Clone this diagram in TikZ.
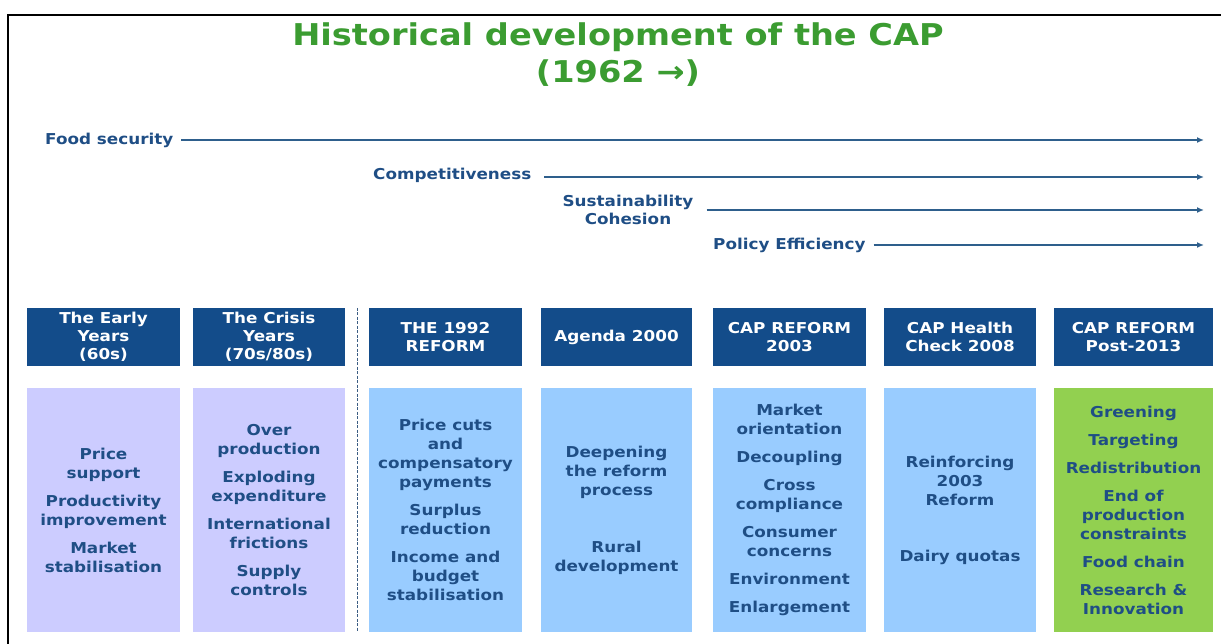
\documentclass[tikz,border=0pt]{standalone}
\usepackage{fontspec}
\setmainfont[FakeStretch=1.12]{DejaVu Sans}
\usepackage{tikz}
\usetikzlibrary{arrows.meta}

\definecolor{capgreen}{HTML}{3B9C31}
\definecolor{capblue}{HTML}{1F4E85}
\definecolor{arrowblue}{HTML}{2E5F8C}
\definecolor{headblue}{HTML}{134C8A}
\definecolor{lavender}{HTML}{CCCCFF}
\definecolor{skyblue}{HTML}{99CCFF}
\definecolor{leafgreen}{HTML}{92D050}

\tikzset{
  head/.style={rectangle,fill=headblue,text=white,minimum height=58pt,
    align=center,inner sep=0pt,font=\bfseries\fontsize{15}{18}\selectfont},
  body/.style={rectangle,minimum height=244pt,text=capblue,
    align=center,inner sep=0pt,font=\bfseries\fontsize{15}{19}\selectfont},
  theme/.style={text=capblue,font=\bfseries\fontsize{15}{18}\selectfont,inner sep=0pt},
  trend/.style={-{Latex[length=7pt,width=6pt]},arrowblue,line width=1.5pt}
}

\begin{document}
\begin{tikzpicture}[x=1pt,y=-1pt]
\useasboundingbox (0,0) rectangle (1221,644);
\draw[line width=1.6pt] (8,644) -- (8,15) -- (1221,15);

\node [text=capgreen,font=\bfseries\fontsize{30}{36}\selectfont] (title) at (618,37) {Historical development of the CAP};
\node [text=capgreen,font=\bfseries\fontsize{30}{36}\selectfont] (since) at (618,73) {(1962 →)};

% policy goals
\node [theme,anchor=west] (food) at (45,140) {Food security};
\node [theme,anchor=west] (compet) at (373,175) {Competitiveness};
\node [theme,align=center] (sust) at (628,210) {Sustainability\\Cohesion};
\node [theme,anchor=west] (effic) at (713,245) {Policy Efficiency};

\coordinate (foodend) at (1204,140);
\coordinate (competend) at (1204,177);
\coordinate (sustend) at (1204,210);
\coordinate (efficend) at (1204,245);

\draw[trend]  ([xshift=8pt]food.east)  --  (foodend);
\draw[trend]  ([xshift=13pt]compet.east |- competend)  --  (competend);
\draw[trend]  ([xshift=13pt]sust.east)  --  (sustend);
\draw[trend]  ([xshift=8pt]effic.east)  --  (efficend);

% periods
\node [head,minimum width=153pt] (early) at (103.5,337) {The Early\\Years\\(60s)};
\node [head,minimum width=152pt] (crisis) at (269,337) {The Crisis\\Years\\(70s/80s)};
\node [head,minimum width=153pt] (ref92) at (445.5,337) {THE 1992\\REFORM};
\node [head,minimum width=151pt] (agenda) at (616.5,337) {Agenda 2000};
\node [head,minimum width=153pt] (ref03) at (789.5,337) {CAP REFORM\\2003};
\node [head,minimum width=152pt] (health) at (960,337) {CAP Health\\Check 2008};
\node [head,minimum width=159pt] (post13) at (1133.5,337) {CAP REFORM\\Post-2013};

\draw[capblue!70!gray,line width=0.8pt,dash pattern=on 3pt off 1.5pt] (357,308) -- (357,632);

\node [body,fill=lavender,minimum width=153pt] (earlyb) at (103.5,510)
  {Price\\support\\[9pt]Productivity\\improvement\\[9pt]Market\\stabilisation};
\node [body,fill=lavender,minimum width=152pt] (crisisb) at (269,510)
  {Over\\production\\[9pt]Exploding\\expenditure\\[9pt]International\\frictions\\[9pt]Supply\\controls};
\node [body,fill=skyblue,minimum width=153pt] (ref92b) at (445.5,510)
  {Price cuts\\and\\compensatory\\payments\\[9pt]Surplus\\reduction\\[9pt]Income and\\budget\\stabilisation};
\node [body,fill=skyblue,minimum width=151pt] (agendab) at (616.5,510)
  {Deepening\\the reform\\process\\[38pt]Rural\\development};
\node [body,fill=skyblue,minimum width=153pt] (ref03b) at (789.5,510)
  {Market\\orientation\\[9pt]Decoupling\\[9pt]Cross\\compliance\\[9pt]Consumer\\concerns\\[9pt]Environment\\[9pt]Enlargement};
\node [body,fill=skyblue,minimum width=152pt] (healthb) at (960,510)
  {Reinforcing\\2003\\Reform\\[37pt]Dairy quotas};
\node [body,fill=leafgreen,minimum width=159pt] (post13b) at (1133.5,510)
  {Greening\\[9pt]Targeting\\[9pt]Redistribution\\[9pt]End of\\production\\constraints\\[9pt]Food chain\\[9pt]Research \&\\Innovation};

\end{tikzpicture}
\end{document}
